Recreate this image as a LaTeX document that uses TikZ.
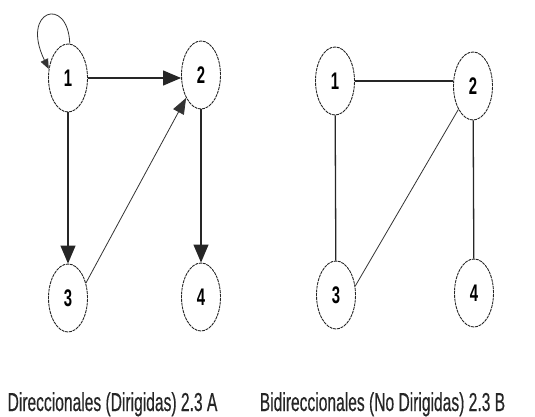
\documentclass[tikz,border=0pt]{standalone}
\usepackage{fontspec}
\setmainfont{Liberation Sans}
\newfontfamily\numfont[FakeStretch=0.62]{Liberation Sans}
\newfontfamily\capfont[FakeStretch=0.6,FakeBold=0.4]{Liberation Sans}
\usetikzlibrary{arrows.meta,shapes.geometric}
\begin{document}
\begin{tikzpicture}[x=1pt,y=-1pt,
  vtx/.style={draw=black!85, ellipse, line width=0.9pt, dash pattern=on 3pt off 0.8pt,
    minimum width=39pt, minimum height=68pt, inner sep=0pt,
    font=\numfont\bfseries\fontsize{24}{24}\selectfont},
  edge/.style={draw=black!85, line width=1.3pt},
  thin edge/.style={draw=black!80, line width=0.8pt},
  arr/.style={-{Triangle[length=18pt,width=15pt]}},
  smallarr/.style={-{Triangle[length=10pt,width=8pt]}},
  caption/.style={anchor=base, inner sep=0pt, font=\capfont\fontsize{26}{26}\selectfont, text=black!85}
]
\useasboundingbox (0,0) rectangle (535,417);
% left graph
\node[vtx] (a1) at (68,78) {1};
\node[vtx] (a2) at (201,75) {2};
\node[vtx] (a3) at (68,298) {3};
\node[vtx] (a4) at (201,297) {4};
\coordinate (a2in) at (a1 -| a2.west);
\draw[edge,arr] (a1.east) -- (a2in);
\draw[edge,arr] (a1) -- (a3);
\draw[edge,arr] (a2) -- (a4);
\draw[thin edge,-{Triangle[length=16pt,width=12pt]}] (a3.40) -- (a2.237);
\draw[thin edge,smallarr] (a1.87) .. controls (68,-5) and (20,10) .. (a1.155);
% right graph
\node[vtx] (b1) at (335,81) {1};
\node[vtx] (b2) at (473,86) {2};
\node[vtx] (b3) at (336,295) {3};
\node[vtx] (b4) at (474,293) {4};
\coordinate (b2in) at (b1 -| b2.west);
\draw[edge] (b1.east) -- (b2in);
\draw[edge] (b1) -- (b3);
\draw[edge] (b2) -- (b4);
\draw[thin edge] (b2.238) -- (b3.25);
% captions
\node[caption] (capA) at (112.5,411) {Direccionales (Dirigidas) 2.3 A};
\node[caption] (capB) at (382.5,411) {Bidireccionales (No Dirigidas) 2.3 B};
\end{tikzpicture}
\end{document}
